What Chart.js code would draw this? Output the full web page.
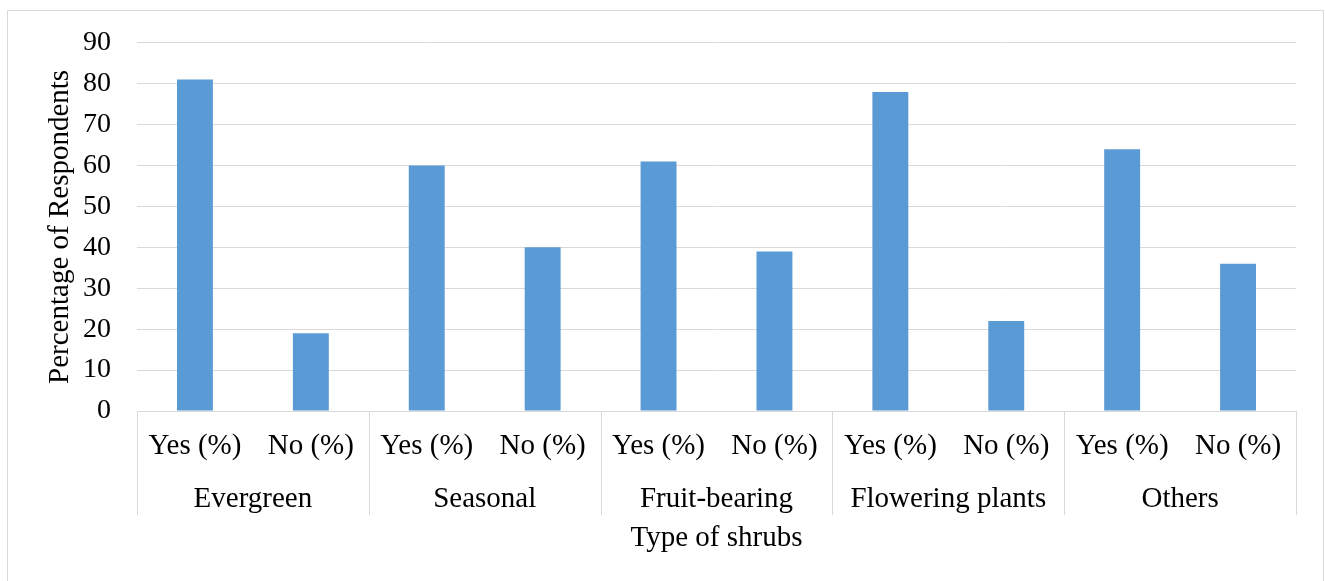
<!DOCTYPE html>
<html>
<head>
<meta charset="utf-8">
<script src="https://cdn.jsdelivr.net/npm/chart.js@4"></script>
<style>
  body { margin: 0; background: #fff; }
  canvas { display: block; }
</style>
</head>
<body>
<canvas id="barChart" width="1325" height="581"></canvas>
<script>
// data
const groups = ["Evergreen", "Seasonal", "Fruit-bearing", "Flowering plants", "Others"];
const answers = ["Yes (%)", "No (%)"];
const yesValues = [81, 60, 61, 78, 64];
const noValues = [19, 40, 39, 22, 36];
const yTicks = [0, 10, 20, 30, 40, 50, 60, 70, 80, 90];

const FONT = "'Liberation Serif', 'Times New Roman', serif";
const GRID = "#d9d9d9";

// flatten into one bar per (group, answer)
const labels = [];
const values = [];
groups.forEach((g, i) => {
  labels.push(answers[0]);
  values.push(yesValues[i]);
  labels.push(answers[1]);
  values.push(noValues[i]);
});

// draws the outer frame, group names and the separators of the two-level axis
const groupAxisPlugin = {
  id: "groupAxis",
  beforeDraw(chart) {
    const ctx = chart.ctx;
    ctx.save();
    ctx.strokeStyle = GRID;
    ctx.lineWidth = 1;
    ctx.strokeRect(7.5, 10.5, 1316, 600);
    ctx.restore();
  },
  afterDraw(chart) {
    const ctx = chart.ctx;
    const x = chart.scales.x;
    const area = chart.chartArea;
    ctx.save();
    ctx.strokeStyle = GRID;
    ctx.lineWidth = 1;
    const edges = [area.left];
    for (let i = 1; i < groups.length; i++) {
      edges.push((x.getPixelForValue(2 * i - 1) + x.getPixelForValue(2 * i)) / 2);
    }
    edges.push(area.right);
    edges.forEach(px => {
      const xx = Math.round(px) + 0.5;
      ctx.beginPath();
      ctx.moveTo(xx, area.bottom);
      ctx.lineTo(xx, area.bottom + 104);
      ctx.stroke();
    });
    ctx.fillStyle = "#000";
    ctx.font = "29px " + FONT;
    ctx.textAlign = "center";
    ctx.textBaseline = "middle";
    groups.forEach((g, i) => {
      const cx = (x.getPixelForValue(2 * i) + x.getPixelForValue(2 * i + 1)) / 2;
      ctx.fillText(g, cx, area.bottom + 88);
    });
    ctx.restore();
  }
};

const ctx = document.getElementById("barChart").getContext("2d");
const shrubChart = new Chart(ctx, {
  type: "bar",
  data: {
    labels: labels,
    datasets: [
      {
        label: "Percentage",
        data: values,
        backgroundColor: "#5B9BD5",
        barPercentage: 0.31,
        categoryPercentage: 1,
      },
    ],
  },
  options: {
    responsive: false,
    animation: false,
    layout: {
      padding: { top: 39, right: 29, bottom: 25, left: 0 },
    },
    scales: {
      x: {
        grid: { display: false, drawTicks: false },
        border: { color: GRID },
        ticks: {
          color: "#000",
          font: { family: FONT, size: 29 },
          maxRotation: 0,
          autoSkip: false,
          padding: 18,
        },
        title: {
          display: true,
          text: "Type of shrubs",
          color: "#000",
          font: { family: FONT, size: 29 },
          padding: { top: 0, bottom: 0 },
        },
        afterFit(scale) {
          scale.height = 145;
        },
      },
      y: {
        min: 0,
        max: 90,
        grid: { color: GRID, drawTicks: false },
        border: { display: false },
        ticks: {
          stepSize: 10,
          color: "#000",
          font: { family: FONT, size: 28 },
          padding: 26,
          callback: (v) => (yTicks.includes(v) ? v : ""),
        },
        title: {
          display: true,
          text: "Percentage of Respondents",
          color: "#000",
          font: { family: FONT, size: 29 },
          padding: { top: 43, bottom: 0 },
        },
        afterFit(scale) {
          scale.width = 137;
        },
      },
    },
    plugins: {
      legend: { display: false },
      tooltip: { enabled: false },
    },
  },
  plugins: [groupAxisPlugin],
});
</script>
</body>
</html>
